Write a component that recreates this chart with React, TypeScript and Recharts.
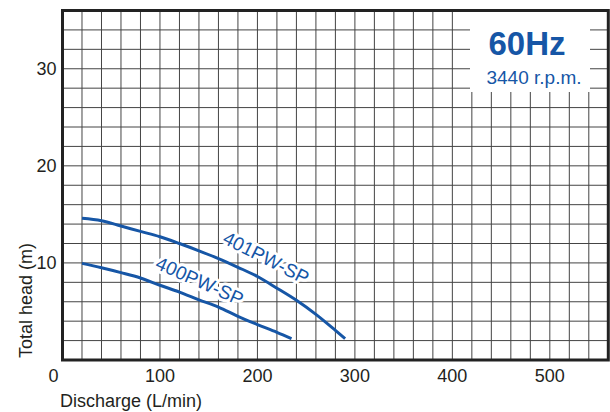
import React from 'react';
import { LineChart, Line, XAxis, YAxis, CartesianGrid, ReferenceArea, ReferenceDot, Label } from 'recharts';

// Discharge (L/min) vs total head (m)
const flow401 = [20, 40, 60, 80, 100, 120, 140, 160, 180, 200, 220, 240, 260, 280, 290];
const head401 = [14.6, 14.35, 13.8, 13.25, 12.7, 12.0, 11.25, 10.45, 9.55, 8.6, 7.4, 6.15, 4.7, 3.05, 2.2];
const flow400 = [20, 40, 60, 80, 100, 120, 140, 160, 180, 200, 220, 235];
const head400 = [9.95, 9.5, 9.0, 8.45, 7.7, 7.0, 6.2, 5.45, 4.5, 3.65, 2.85, 2.2];

const xTicks = [0, 20, 40, 60, 80, 100, 120, 140, 160, 180, 200, 220, 240, 260, 280, 300, 320, 340, 360, 380, 400, 420, 440, 460, 480, 500, 520, 540, 560];
const yTicks = [0, 2, 4, 6, 8, 10, 12, 14, 16, 18, 20, 22, 24, 26, 28, 30, 32, 34, 36];
const xLabelled = [0, 100, 200, 300, 400, 500];
const yLabelled = [10, 20, 30];

// where the curve names sit (in data units)
const label401 = { q: 209, h: 10.55, text: '401PW-SP', angle: 27 };
const label400 = { q: 141, h: 8.15, text: '400PW-SP', angle: 24 };

const data401 = flow401.map((q, i) => ({ q, h: head401[i] }));
const data400 = flow400.map((q, i) => ({ q, h: head400[i] }));

const FONT = '"Liberation Sans", Arial, sans-serif';
const BLUE = '#1656a6';
const INK = '#231f20';

const XTick = (props: any) => {
  const { x, y, payload } = props;
  if (!xLabelled.includes(payload.value)) return <g />;
  const dx = payload.value === 0 ? -9 : 0;
  return (
    <text x={x + dx} y={y} dy="0.78em" textAnchor="middle" fontSize={18} fill={INK} fontFamily={FONT}>
      {payload.value}
    </text>
  );
};

const YTick = (props: any) => {
  const { x, y, payload } = props;
  if (!yLabelled.includes(payload.value)) return <g />;
  return (
    <text x={x + 2} y={y} dy="0.36em" textAnchor="end" fontSize={18} fill={INK} fontFamily={FONT}>
      {payload.value}
    </text>
  );
};

// white halo first, then the blue text on top, so the halo never hides a glyph
const curveLabel = (lbl: { text: string; angle: number }) => (props: any) => {
  const { cx, cy } = props;
  const common = {
    x: cx,
    y: cy,
    dy: '0.36em',
    textAnchor: 'middle' as const,
    fontSize: 19,
    fontFamily: FONT,
  };
  return (
    <g transform={`rotate(${lbl.angle} ${cx} ${cy})`}>
      <text {...common} fill="#fff" stroke="#fff" strokeWidth={6} strokeLinejoin="round">
        {lbl.text}
      </text>
      <text {...common} fill={BLUE}>
        {lbl.text}
      </text>
    </g>
  );
};

export default function App() {
  return (
    <div style={{ position: 'absolute', left: 0, top: 0, width: 610, height: 412, background: '#fff', fontFamily: FONT }}>
      <LineChart width={610} height={412} margin={{ top: 10.5, right: 1.7, left: 0, bottom: 0 }}>
        <CartesianGrid stroke="#444" strokeWidth={1} />
        <XAxis
          dataKey="q"
          type="number"
          domain={[0, 560]}
          ticks={xTicks}
          interval={0}
          allowDataOverflow
          height={52}
          tickLine={false}
          axisLine={false}
          tick={<XTick />}
        >
          <Label
            content={(p: any) => (
              <text x={p.viewBox.x - 2.5} y={p.viewBox.y + 47} fontSize={18} fill={INK} fontFamily={FONT}>
                Discharge (L/min)
              </text>
            )}
          />
        </XAxis>
        <YAxis
          type="number"
          domain={[0, 36]}
          ticks={yTicks}
          interval={0}
          allowDataOverflow
          width={62.5}
          tickLine={false}
          axisLine={false}
          tick={<YTick />}
        >
          <Label
            content={(p: any) => {
              const tx = p.viewBox.x + 31.5;
              const ty = p.viewBox.y + p.viewBox.height - 2;
              return (
                <text x={tx} y={ty} transform={`rotate(-90 ${tx} ${ty})`} fontSize={18} fill={INK} fontFamily={FONT}>
                  Total head (m)
                </text>
              );
            }}
          />
        </YAxis>
        <Line data={data401} dataKey="h" type="monotone" stroke={BLUE} strokeWidth={3} dot={false} isAnimationActive={false} />
        <Line data={data400} dataKey="h" type="monotone" stroke={BLUE} strokeWidth={3} dot={false} isAnimationActive={false} />
        <ReferenceDot x={label401.q} y={label401.h} r={0} shape={curveLabel(label401)} />
        <ReferenceDot x={label400.q} y={label400.h} r={0} shape={curveLabel(label400)} />
        <ReferenceArea x1={0} x2={560} y1={0} y2={36} fill="none" stroke="#222" strokeWidth={3} />
      </LineChart>
      <div
        style={{
          position: 'absolute',
          left: 470,
          top: 12,
          width: 120,
          height: 80,
          background: '#fff',
          color: BLUE,
        }}
      >
        <div style={{ position: 'absolute', left: -3, top: 15, width: 120, textAlign: 'center', fontSize: 33, fontWeight: 'bold', lineHeight: '33px' }}>
          60Hz
        </div>
        <div style={{ position: 'absolute', left: 4, top: 56, width: 120, textAlign: 'center', fontSize: 19, lineHeight: '20px' }}>
          3440 r.p.m.
        </div>
      </div>
    </div>
  );
}
